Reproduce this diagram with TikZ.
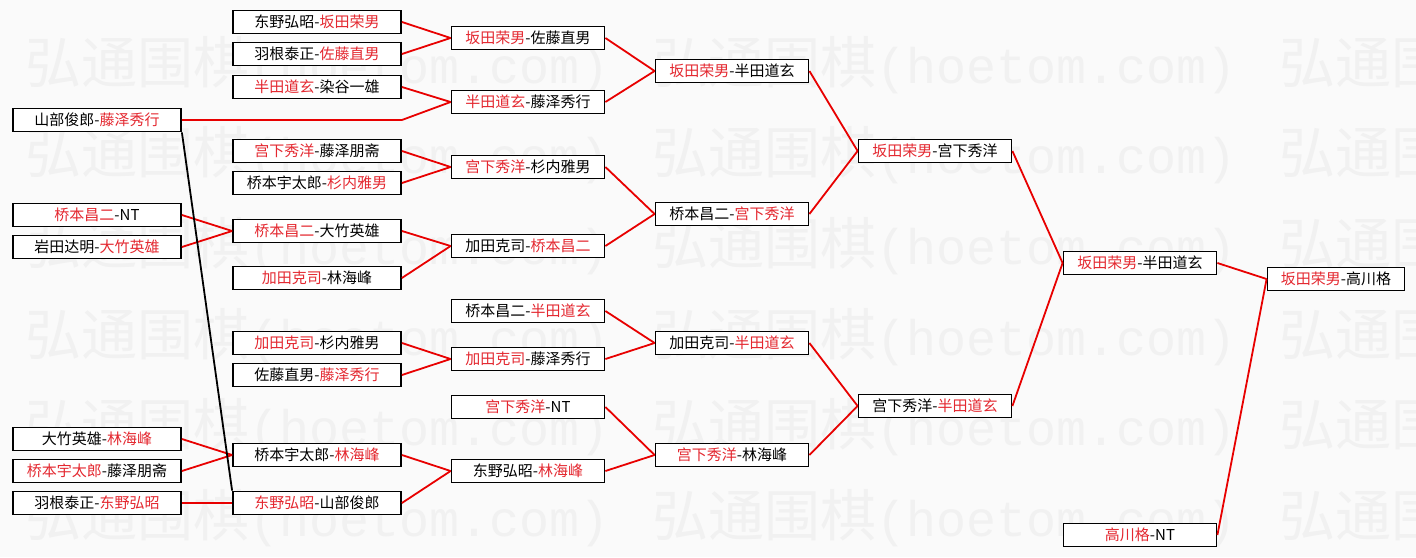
\documentclass[tikz,border=0pt]{standalone}
\usepackage{fontspec}
\newfontfamily\cjk{Noto Sans CJK SC}
\newfontfamily\wmmono{Liberation Mono}
\usepackage{xcolor}
\definecolor{myr}   {RGB}{228, 40, 48}
\definecolor{myline}{RGB}{232, 0, 0}
\definecolor{mybg}  {RGB}{250, 250, 250}
\definecolor{mywm}  {RGB}{241, 241, 241}
\newcommand{\wn}[1]{\textcolor{myr}{#1}}

\begin{document}
\begin{tikzpicture}[x=1pt, y=-1pt,
        player/.style={draw, line width=1.8pt, fill=white, inner sep=0pt, minimum width=153pt, minimum height=23pt, font=\cjk\fontsize{15}{18}\selectfont},
        wide/.style={player, minimum width=168pt},
        link/.style={draw=myline, line width=1.8pt}]
        \useasboundingbox (0,0) rectangle (1416,557);
        % background and watermark
        \begin{scope}
            \clip (0,0) rectangle (1416,557);
            \fill[mybg] (0,0) rectangle (1416,557);
            \foreach \k in {0,...,5}
            {
                \foreach \j in {0,1,2}
                    \node[anchor=west, inner sep=0pt, text=mywm, font=\cjk\fontsize{56}{60}\selectfont] (wm\k\j) at ({25+627*\j}, {65+90.6*\k}) {弘通围棋{\wmmono\fontsize{50}{60}\selectfont(hoetom.com)}};
            }
        \end{scope}
        % round 1
        \foreach \n/\y/\t in {a1/120/{山部俊郎-\wn{藤泽秀行}}, a2/215/{\wn{桥本昌二}-NT}, a3/247/{岩田达明-\wn{大竹英雄}}, a4/439/{大竹英雄-\wn{林海峰}}, a5/471/{\wn{桥本宇太郎}-藤泽朋斋}, a6/503/{羽根泰正-\wn{东野弘昭}}}
        {
            \node[wide] (\n) at (97,\y) {\t};
        }
        % round 2
        \foreach \n/\y/\t in {b1/22/{东野弘昭-\wn{坂田荣男}}, b2/54/{羽根泰正-\wn{佐藤直男}}, b3/87/{\wn{半田道玄}-染谷一雄}, b4/151/{\wn{宫下秀洋}-藤泽朋斋}, b5/183/{桥本宇太郎-\wn{杉内雅男}}, b6/231/{\wn{桥本昌二}-大竹英雄}, b7/278/{\wn{加田克司}-林海峰}, b8/343/{\wn{加田克司}-杉内雅男}, b9/375/{佐藤直男-\wn{藤泽秀行}}, b10/455/{桥本宇太郎-\wn{林海峰}}, b11/503/{\wn{东野弘昭}-山部俊郎}}
        {
            \node[wide] (\n) at (317,\y) {\t};
        }
        % round 3
        \foreach \n/\y/\t in {c1/38/{\wn{坂田荣男}-佐藤直男}, c2/102/{\wn{半田道玄}-藤泽秀行}, c3/167/{\wn{宫下秀洋}-杉内雅男}, c4/246/{加田克司-\wn{桥本昌二}}, c5/311/{桥本昌二-\wn{半田道玄}}, c6/359/{\wn{加田克司}-藤泽秀行}, c7/407/{\wn{宫下秀洋}-NT}, c8/471/{东野弘昭-\wn{林海峰}}}
        {
            \node[player] (\n) at (528,\y) {\t};
        }
        % round 4
        \foreach \n/\y/\t in {d1/71/{\wn{坂田荣男}-半田道玄}, d2/214/{桥本昌二-\wn{宫下秀洋}}, d3/343/{加田克司-\wn{半田道玄}}, d4/455/{\wn{宫下秀洋}-林海峰}}
        {
            \node[player] (\n) at (732,\y) {\t};
        }
        % semifinals and final
        \node[player] (e1) at (935,151) {\wn{坂田荣男}-宫下秀洋};
        \node[player] (e2) at (935,406) {宫下秀洋-\wn{半田道玄}};
        \node[player] (f1) at (1140,263) {\wn{坂田荣男}-半田道玄};
        \node[player] (f2) at (1140,535) {\wn{高川格}-NT};
        \node[player, minimum width=137pt] (g1) at (1336,279) {\wn{坂田荣男}-高川格};
        % connectors
        \foreach \s/\t in {a2/b6, a3/b6, a4/b10, a5/b10, a6/b11, b1/c1, b2/c1, b3/c2, b4/c3, b5/c3, b6/c4, b7/c4, b8/c6, b9/c6, b10/c8, b11/c8, c1/d1, c2/d1, c3/d2, c4/d2, c5/d3, c6/d3, c7/d4, c8/d4, d1/e1, d2/e1, d3/e2, d4/e2, e1/f1, e2/f1, f1/g1, f2/g1}
        {
            \draw[link] (\s.east) -- (\t.west);
        }
        \coordinate (a1k) at (b3.east |- a1);
        \draw[link] (a1.east) -- (a1k) -- (c2.west);
        \draw[line width=1.8pt] (a1.south east) -- (b11.north west);
    \end{tikzpicture}
\end{document}
